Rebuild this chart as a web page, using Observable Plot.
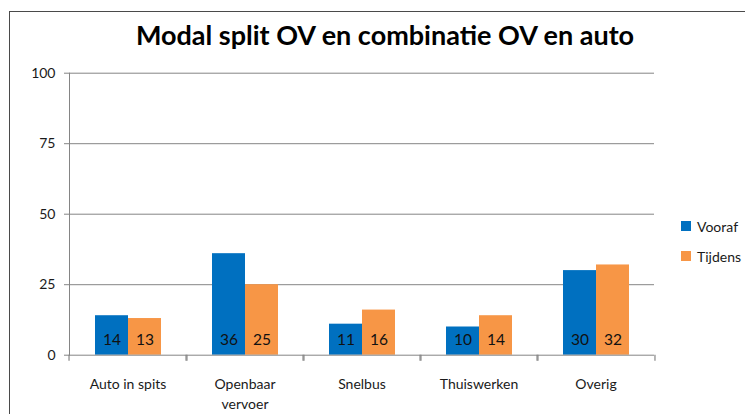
<!DOCTYPE html>
<html>
<head>
<meta charset="utf-8">
<script src="https://cdn.jsdelivr.net/npm/d3@7"></script>
<script src="https://cdn.jsdelivr.net/npm/@observablehq/plot@0.6"></script>
<style>
  html, body { margin: 0; padding: 0; background: #fff; width: 745px; height: 414px; overflow: hidden; }
  body { position: relative; font-family: Lato, "Open Sans", sans-serif; color: #1a1a1a; }
  #frame { position: absolute; left: 9px; top: 11px; width: 900px; height: 600px; border: 1.5px solid #4a4a4a; box-sizing: border-box; }
  #title { position: absolute; left: 0; width: 770px; top: 18px; text-align: center; font-weight: bold; font-size: 27px; color: #000; }
  #chart { position: absolute; left: 0; top: 60px; }
  #legend { position: absolute; left: 681px; top: 211px; font-size: 14px; }
  .row { display: flex; align-items: center; height: 30px; }
  .sw { width: 10px; height: 10px; margin-right: 6px; }
</style>
</head>
<body>
<div id="frame"></div>
<div id="title">Modal split OV en combinatie OV en auto</div>
<div id="chart"></div>
<div id="legend"></div>
<script>
const titleText = "Modal split OV en combinatie OV en auto";
const categories = ["Auto in spits", "Openbaar vervoer", "Snelbus", "Thuiswerken", "Overig"];
const categoryLabels = ["Auto in spits", "Openbaar\nvervoer", "Snelbus", "Thuiswerken", "Overig"];
const series = ["Vooraf", "Tijdens"];
const vooraf = [14, 36, 11, 10, 30];
const tijdens = [13, 25, 16, 14, 32];
const yTicks = [0, 25, 50, 75, 100];
const colors = ["#0070C0", "#F79646"];

document.getElementById("title").textContent = titleText;

const rows = [];
categories.forEach((c, i) => {
  rows.push({category: c, series: series[0], value: vooraf[i]});
  rows.push({category: c, series: series[1], value: tijdens[i]});
});
const labelOf = new Map(categories.map((c, i) => [c, categoryLabels[i]]));

const W = 745, H = 354;
const mL = 67, mR = 88.3, mT = 12.7, mB = 59.3;
const bw = (W - mL - mR) / categories.length;
const axisGray = "#858585";

const chart = Plot.plot({
  width: W, height: H,
  marginTop: mT, marginBottom: mB, marginLeft: mL, marginRight: mR,
  style: {fontFamily: "Lato, 'Open Sans', sans-serif", fontSize: "13px", color: "#1a1a1a", background: "transparent"},
  fx: {domain: categories, padding: 0, label: null, axis: null},
  x: {domain: series, paddingInner: 0, paddingOuter: 0.73, axis: null},
  y: {domain: [0, 100], label: null},
  color: {domain: series, range: colors},
  marks: [
    Plot.gridY(yTicks.filter(d => d > 0), {stroke: axisGray, strokeOpacity: 1, strokeWidth: 1}),
    Plot.barY(rows, {fx: "category", x: "series", y: "value", fill: "series"}),
    Plot.text(rows, {fx: "category", x: "series", y: 0, text: d => String(d.value), dy: -15, fontSize: 15.5, fill: "#111"}),
    Plot.ruleY([0], {stroke: axisGray, strokeWidth: 1}),
    Plot.frame({anchor: "left", stroke: axisGray, strokeOpacity: 1, facetAnchor: "left"}),
    Plot.axisY(yTicks, {tickSize: 5, tickPadding: 9, stroke: axisGray, label: null, fontSize: 14}),
    Plot.axisFx({anchor: "bottom", tickSize: 0, tickPadding: 20, tickFormat: d => labelOf.get(d), lineHeight: 1.4, label: null, fontSize: 14}),
    Plot.axisFx({anchor: "bottom", tickSize: 6, dx: -bw / 2, tickFormat: () => "", stroke: axisGray, strokeWidth: 1.2, label: null}),
    Plot.axisFx({anchor: "bottom", tickSize: 6, dx: bw / 2, tickFormat: () => "", stroke: axisGray, strokeWidth: 1.2, label: null})
  ]
});
document.getElementById("chart").appendChild(chart);

const legend = document.getElementById("legend");
series.forEach((s, i) => {
  const row = document.createElement("div");
  row.className = "row";
  const sw = document.createElement("div");
  sw.className = "sw";
  sw.style.background = chart.scale("color").apply(s);
  const t = document.createElement("span");
  t.textContent = s;
  row.appendChild(sw); row.appendChild(t);
  legend.appendChild(row);
});
</script>
</body>
</html>
